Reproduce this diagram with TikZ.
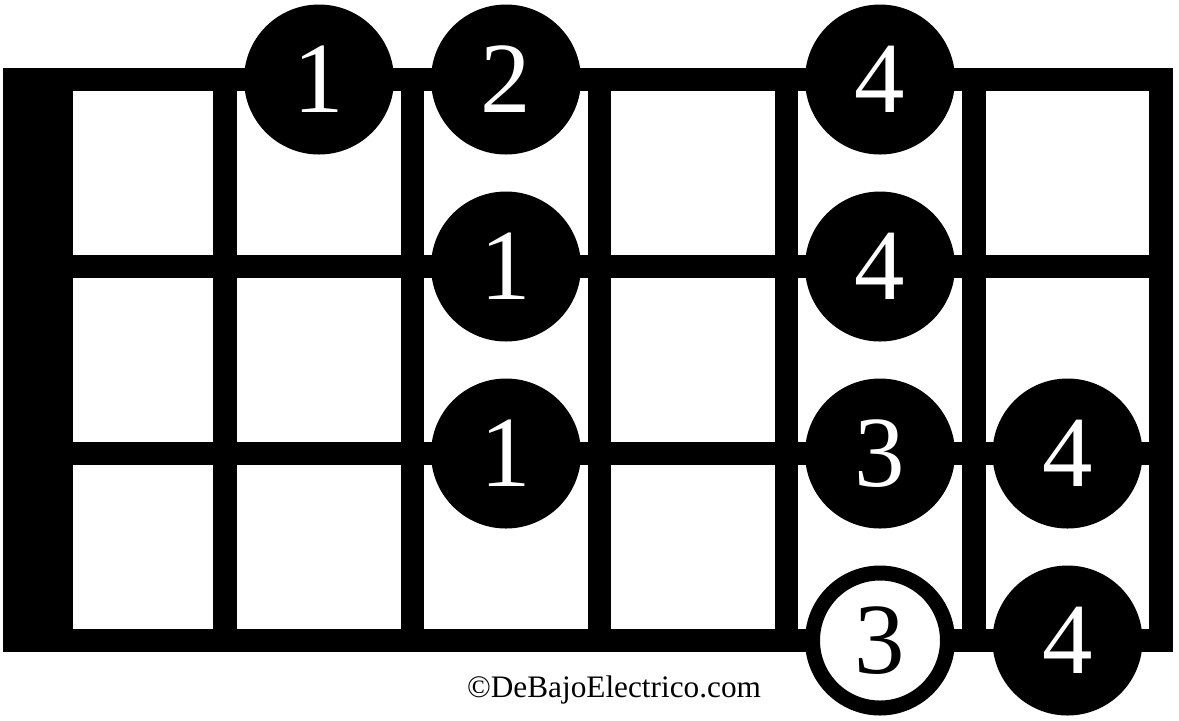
\documentclass[tikz,border=0pt]{standalone}
\usepackage{fontspec}
\setmainfont{Liberation Serif}
\usetikzlibrary{positioning}

\begin{document}
\begin{tikzpicture}[
    x=0.1mm, y=-0.1mm,
    wire/.style={line width=2.35mm},
    dot/.style={circle, fill=black, text=white, inner sep=0pt, minimum size=15mm,
      font=\fontsize{28.7}{30}\selectfont},
    opendot/.style={dot, fill=white, draw=black, text=black, line width=1.5mm, minimum size=13.5mm}
  ]
    \useasboundingbox (0,0) rectangle (1179,720);

    % strings and frets
    \foreach \y in {79.5,266.5,453.5,640.5}
      \draw[wire] (3,\y) -- (1173,\y);
    \foreach \x in {225,412.5,599.5,786.5,974,1161}
      \draw[wire] (\x,68) -- (\x,652);

    % nut
    \fill (3,68) rectangle (73,652);

    % fingers
    \node[dot] (s1f2) at (319,79.5) {1};
    \node[dot] (s1f3) at (506,79.5) {2};
    \node[dot] (s1f5) at (880,79.5) {4};
    \node[dot] (s2f3) at (506,266.5) {1};
    \node[dot] (s2f5) at (880,266.5) {4};
    \node[dot] (s3f3) at (506,453.5) {1};
    \node[dot] (s3f5) at (880,453.5) {3};
    \node[dot] (s3f6) at (1067.5,453.5) {4};
    \node[opendot] (s4f5) at (880,640.5) {3};
    \node[dot] (s4f6) at (1067.5,640.5) {4};

    % credit
    \node[font=\fontsize{8.9}{10}\selectfont] (credit) at (614,690) {©DeBajoElectrico.com};
  \end{tikzpicture}
\end{document}
